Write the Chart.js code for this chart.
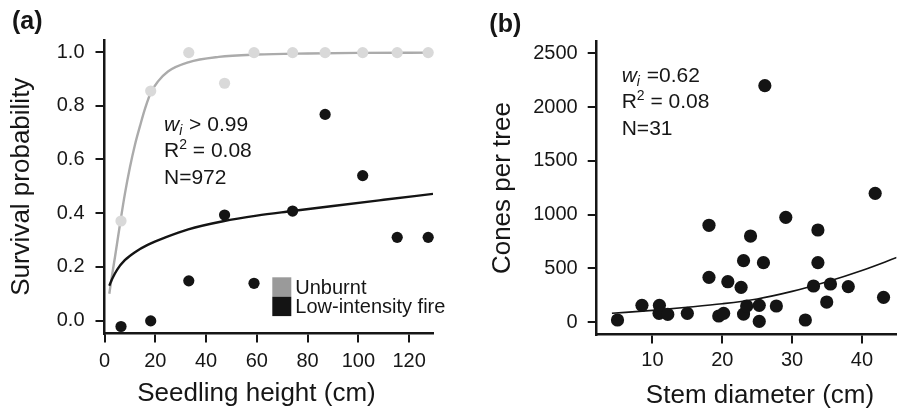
<!DOCTYPE html>
<html>
<head>
<meta charset="utf-8">
<title>Seedling survival and cone production</title>
<script src="https://cdn.jsdelivr.net/npm/chart.js@4.4.1/dist/chart.umd.min.js"></script>
<style>
  body { margin: 0; background: #fff; }
  #wrap { position: relative; width: 903px; height: 413px; }
  .panel { position: absolute; top: 0; height: 413px; }
  #panelA { left: 0; width: 460px; }
  #panelB { left: 460px; width: 443px; }
</style>
</head>
<body>
<div id="wrap">
  <div class="panel" id="panelA"><canvas id="chartA"></canvas></div>
  <div class="panel" id="panelB"><canvas id="chartB"></canvas></div>
</div>
<script>
/* ── Panel (a): survival vs seedling height ───────────────── */
const heightCm     = [6.5, 18.2, 33.2, 47.3, 58.9, 74.1, 86.9, 101.7, 115.3, 127.5];
const survUnburnt  = [0.371, 0.855, 0.998, 0.884, 0.998, 0.998, 0.998, 0.998, 0.998, 0.998];
const survFire     = [-0.022, -0.001, 0.148, 0.393, 0.139, 0.408, 0.768, 0.540, 0.310, 0.310];

// fitted curves
const fitUnburntX  = [1.9, 3, 4.1, 6.2, 8, 10, 12, 14, 16, 18.3, 21, 25, 33, 45, 60, 80, 100, 129.4];
const fitUnburntY  = [0.10, 0.17, 0.235, 0.365, 0.47, 0.57, 0.655, 0.725, 0.79, 0.85, 0.89, 0.928,
                      0.962, 0.982, 0.991, 0.995, 0.997, 0.998];
const fitFireX     = [1.9, 3, 5, 8, 12, 17, 24, 33, 46.7, 60, 74, 90, 110, 129.4];
const fitFireY     = [0.13, 0.155, 0.19, 0.225, 0.255, 0.282, 0.31, 0.34, 0.37, 0.391, 0.408, 0.427, 0.45, 0.472];

const ticksAx = [0, 20, 40, 60, 80, 100, 120];
const ticksAy = [0, 0.2, 0.4, 0.6, 0.8, 1.0];

/* ── Panel (b): cones vs stem diameter ────────────────────── */
const stemDiam = [5.0, 8.5, 11.0, 10.95, 12.2, 15.0, 18.1, 18.1, 19.5, 20.2, 20.8,
                  22.7, 23.05, 23.05, 23.5, 24.05, 25.3, 25.3, 25.9, 26.1, 27.75,
                  29.1, 31.9, 33.07, 33.7, 33.7, 34.96, 35.5, 38.05, 41.9, 43.1];
const cones    = [19, 155, 155, 81, 71, 81, 900, 416, 56, 81, 375,
                  323, 571, 74, 149, 800, 155, 6, 552, 2199, 149,
                  974, 19, 335, 856, 552, 186, 354, 329, 1197, 230];

const fitConesX = [4.2, 10, 15, 20, 25, 30, 35, 40, 45];
const fitConesY = [81, 108, 137, 170, 215, 285, 375, 480, 600];

const ticksBx = [10, 20, 30, 40];
const ticksBy = [0, 500, 1000, 1500, 2000, 2500];

/* ── Helpers ──────────────────────────────────────────────── */
const FONT = "'Liberation Sans', Arial, Helvetica, sans-serif";
const INK  = '#161616';

Chart.defaults.font.family = FONT;
Chart.defaults.color = INK;

const xy = (xs, ys) => xs.map((x, i) => ({ x, y: ys[i] }));
const fixedTicks = list => scale => { scale.ticks = list.map(v => ({ value: v })); };

function axis(opts) {
  return {
    type: 'linear',
    min: opts.min, max: opts.max,
    afterBuildTicks: fixedTicks(opts.ticks),
    afterFit: s => { if (opts.width) s.width = opts.width; if (opts.height) s.height = opts.height; },
    ticks: { padding: opts.pad, font: { size: 20 }, color: INK, callback: opts.fmt || (v => String(v)) },
    grid: { display: true, drawOnChartArea: false, drawTicks: true, tickLength: 9, color: INK, lineWidth: 2 },
    border: { display: true, color: INK, width: 2.5 },
    title: opts.title || { display: false }
  };
}

// rich text: italic / sub / sup pieces
function drawRich(ctx, x, y, parts, size) {
  let cx = x;
  parts.forEach(p => {
    const small = p.sub || p.sup;
    const fs = small ? Math.round(size * 0.68) : size;
    ctx.font = `${p.it ? 'italic ' : ''}${fs}px ${FONT}`;
    const dy = p.sub ? size * 0.22 : p.sup ? -size * 0.38 : 0;
    ctx.fillText(p.t, cx, y + dy);
    cx += ctx.measureText(p.t).width + (p.sub ? 1 : 0);
  });
}

const panelText = {
  id: 'panelText',
  afterDraw(chart, args, o) {
    const ctx = chart.ctx;
    ctx.save();
    ctx.fillStyle = INK;
    ctx.textBaseline = 'alphabetic';
    ctx.textAlign = 'left';

    // panel letter
    ctx.font = `bold 25px ${FONT}`;
    ctx.fillText(o.letter, o.letterX, o.letterY);

    // model statistics
    o.stats.forEach((line, i) => drawRich(ctx, o.statsX, o.statsY + i * 26.5, line, 21));

    // x axis title
    ctx.font = `26px ${FONT}`;
    ctx.textAlign = 'center';
    ctx.fillText(o.xTitle, o.xTitleX, o.xTitleY);

    // legend boxes
    if (o.legend) {
      ctx.textAlign = 'left';
      ctx.font = `20px ${FONT}`;
      o.legend.forEach((it, i) => {
        const top = o.legendY + i * 19.4;
        ctx.fillStyle = it.color;
        ctx.fillRect(o.legendX, top, 19, 19.4);
        ctx.fillStyle = INK;
        ctx.fillText(it.label, o.legendX + 23, top + 16.5);
      });
    }
    ctx.restore();
  }
};

/* ── Chart (a) ────────────────────────────────────────────── */
new Chart(document.getElementById('chartA'), {
  type: 'scatter',
  data: {
    datasets: [
      { label: 'Low-intensity fire', data: xy(heightCm, survFire), backgroundColor: '#141414',
        borderWidth: 0, pointRadius: 5.6, clip: false },
      { label: 'Unburnt', data: xy(heightCm, survUnburnt), backgroundColor: '#d9d9d9',
        borderWidth: 0, pointRadius: 5.6, clip: false },
      { label: 'fit fire', data: xy(fitFireX, fitFireY), showLine: true, borderColor: '#141414',
        borderWidth: 2.4, pointRadius: 0, cubicInterpolationMode: 'monotone' },
      { label: 'fit unburnt', data: xy(fitUnburntX, fitUnburntY), showLine: true, borderColor: '#ababab',
        borderWidth: 2.4, pointRadius: 0, cubicInterpolationMode: 'monotone' }
    ]
  },
  options: {
    responsive: true, maintainAspectRatio: false, animation: false,
    layout: { padding: { top: 40, right: 27, left: 0, bottom: 0 } },
    plugins: {
      legend: { display: false }, tooltip: { enabled: false },
      panelText: {
        letter: '(a)', letterX: 12, letterY: 29,
        statsX: 164, statsY: 130.5,
        stats: [
          [{ t: 'w', it: true }, { t: 'i', it: true, sub: true }, { t: ' > 0.99' }],
          [{ t: 'R' }, { t: '2', sup: true }, { t: ' = 0.08' }],
          [{ t: 'N=972' }]
        ],
        xTitle: 'Seedling height (cm)', xTitleX: 256.5, xTitleY: 401,
        legendX: 272.3, legendY: 277.3,
        legend: [{ label: 'Unburnt', color: '#9a9a9a' }, { label: 'Low-intensity fire', color: '#141414' }]
      }
    },
    scales: {
      x: axis({ min: 0, max: 129.4, ticks: ticksAx, height: 79.5, pad: 6.5 }),
      y: axis({ min: -0.048, max: 1.045, ticks: ticksAy, width: 104.5, pad: 11,
                fmt: v => v.toFixed(1),
                title: { display: true, text: 'Survival probability', font: { size: 26 }, color: INK,
                         padding: { top: 6.4, bottom: 0 } } })
    }
  },
  plugins: [panelText]
});

/* ── Chart (b) ────────────────────────────────────────────── */
new Chart(document.getElementById('chartB'), {
  type: 'scatter',
  data: {
    datasets: [
      { label: 'Trees', data: xy(stemDiam, cones), backgroundColor: '#141414',
        borderWidth: 0, pointRadius: 6.6, clip: false },
      { label: 'fit', data: xy(fitConesX, fitConesY), showLine: true, borderColor: '#141414',
        borderWidth: 1.6, pointRadius: 0, cubicInterpolationMode: 'monotone' }
    ]
  },
  options: {
    responsive: true, maintainAspectRatio: false, animation: false,
    layout: { padding: { top: 41.7, right: 5, left: 0, bottom: 0 } },
    plugins: {
      legend: { display: false }, tooltip: { enabled: false },
      panelText: {
        letter: '(b)', letterX: 29.3, letterY: 32,
        statsX: 161.7, statsY: 81.5,
        stats: [
          [{ t: 'w', it: true }, { t: 'i', it: true, sub: true }, { t: ' =0.62' }],
          [{ t: 'R' }, { t: '2', sup: true }, { t: ' = 0.08' }],
          [{ t: 'N=31' }]
        ],
        xTitle: 'Stem diameter (cm)', xTitleX: 300, xTitleY: 403
      }
    },
    scales: {
      x: axis({ min: 2.02, max: 44.94, ticks: ticksBx, height: 78.5, pad: 5.3 }),
      y: axis({ min: -116, max: 2608, ticks: ticksBy, width: 136.7, pad: 10,
                title: { display: true, text: 'Cones per tree', font: { size: 26 }, color: INK,
                         padding: { top: 27.6, bottom: 0 } } })
    }
  },
  plugins: [panelText]
});
</script>
</body>
</html>
